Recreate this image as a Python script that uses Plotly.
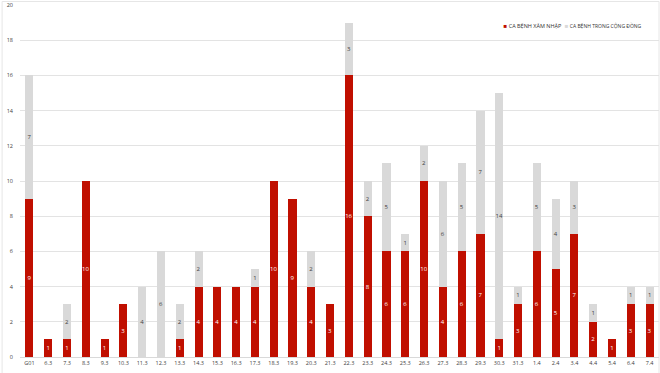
import plotly.graph_objects as go

categories = ["G01", "6.3", "7.3", "8.3", "9.3", "10.3", "11.3", "12.3", "13.3", "14.3",
              "15.3", "16.3", "17.3", "18.3", "19.3", "20.3", "21.3", "22.3", "23.3", "24.3",
              "25.3", "26.3", "27.3", "28.3", "29.3", "30.3", "31.3", "1.4", "2.4", "3.4",
              "4.4", "5.4", "6.4", "7.4"]
imported = [9, 1, 1, 10, 1, 3, 0, 0, 1, 4, 4, 4, 4, 10, 9, 4, 3, 16, 8, 6,
            6, 10, 4, 6, 7, 1, 3, 6, 5, 7, 2, 1, 3, 3]
community = [7, 0, 2, 0, 0, 0, 4, 6, 2, 2, 0, 0, 1, 0, 0, 2, 0, 3, 2, 5,
             1, 2, 6, 5, 7, 14, 1, 5, 4, 3, 1, 0, 1, 1]
y_ticks = [0, 2, 4, 6, 8, 10, 12, 14, 16, 18, 20]
series_names = ["CA BỆNH XÂM NHẬP", "CA BỆNH TRONG CỘNG ĐỒNG"]

RED = "#c00f00"
GRAY = "#d9d9d9"
FONT = "Open Sans"

fig = go.Figure()
fig.add_trace(go.Bar(
    x=categories, y=imported, name=series_names[0], showlegend=False,
    marker=dict(color=RED, line=dict(width=0)),
    text=[str(v) if v else "" for v in imported],
    textposition="inside", insidetextanchor="middle", constraintext="none", textangle=0,
    textfont=dict(color="white", size=6, family=FONT),
    insidetextfont=dict(color="white", size=6, family=FONT),
))
fig.add_trace(go.Bar(
    x=categories, y=community, name=series_names[1], showlegend=False,
    marker=dict(color=GRAY, line=dict(width=0)),
    text=[str(v) if v else "" for v in community],
    textposition="inside", insidetextanchor="middle", constraintext="none", textangle=0,
    textfont=dict(color="#404040", size=6, family=FONT),
    insidetextfont=dict(color="#404040", size=6, family=FONT),
))
# legend entries: colored square glyph in the label, hidden default swatch
for nm, col, lg in zip(series_names, [RED, GRAY], ["legend", "legend2"]):
    fig.add_trace(go.Scatter(
        x=[None], y=[None], mode="markers", legend=lg,
        name=f"<span style='color:{col};font-size:6px'>■</span> {nm}",
        marker=dict(symbol="square", size=1, color="rgba(0,0,0,0)"),
        showlegend=True, hoverinfo="skip",
    ))

legend_style = dict(orientation="h", y=0.94, xanchor="right", yanchor="middle",
                    bgcolor="rgba(0,0,0,0)", itemwidth=30)

fig.update_layout(
    barmode="stack",
    bargap=0.57,
    width=660, height=373,
    margin=dict(l=20, r=1, t=5, b=16),
    paper_bgcolor="white", plot_bgcolor="white",
    font=dict(family=FONT, size=6, color="#404040"),
    showlegend=True,
    legend=dict(x=0.857, font=dict(size=5.5, color="#333333", family=FONT), **legend_style),
    legend2=dict(x=0.981, font=dict(size=5, color="#333333", family=FONT), **legend_style),
    xaxis=dict(type="category", tickfont=dict(size=5.5, color="#404040"),
               showgrid=False, showline=True, linecolor="#d9d9d9", linewidth=1,
               ticks="", ticklen=0),
    yaxis=dict(range=[0, 20], tickvals=y_ticks, tickfont=dict(size=5.5, color="#404040"),
               showgrid=True, gridcolor="#e3e3e3", gridwidth=1, zeroline=False,
               showline=False, ticks="", ticklabelstandoff=6),
    shapes=[dict(type="rect", xref="paper", yref="paper", x0=-0.028, x1=1.0, y0=-0.05, y1=1.01,
                 line=dict(color="#e6e6e6", width=1), layer="below")],
)

fig.write_html("out.html", config={"displayModeBar": False},
               post_script="document.body.style.margin='0';document.body.style.overflow='hidden';")
